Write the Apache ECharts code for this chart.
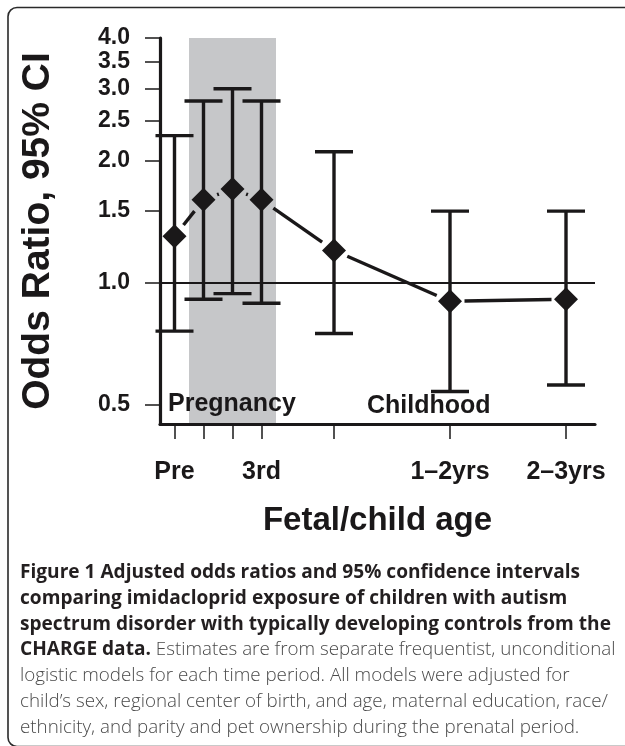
<!DOCTYPE html>
<html>
<head>
<meta charset="utf-8">
<script src="https://cdn.jsdelivr.net/npm/echarts@6/dist/echarts.min.js"></script>
<style>
  html, body { margin: 0; padding: 0; background: #fff; overflow: hidden; }
  #chart { width: 625px; height: 746px; }
</style>
</head>
<body>
<div id="chart"></div>
<script>
// time periods, placed on a month scale (0 = birth)
const periods = ['Pre', '1st', '2nd', '3rd', '0–1yr', '1–2yrs', '2–3yrs'];
const periodMonths = [-10.5, -7.5, -4.5, -1.5, 6, 18, 30];
const labelledPeriods = ['Pre', '3rd', '1–2yrs', '2–3yrs'];

// adjusted odds ratios and 95% CI
const oddsRatio = [1.30, 1.60, 1.70, 1.60, 1.20, 0.90, 0.91];
const ciLower = [0.76, 0.91, 0.94, 0.89, 0.75, 0.54, 0.56];
const ciUpper = [2.30, 2.80, 3.00, 2.80, 2.10, 1.50, 1.50];

// y tick labels, reference line, pregnancy band
const yTicks = [0.5, 1.0, 1.5, 2.0, 2.5, 3.0, 3.5, 4.0];
const refLine = 1.0;
const pregnancyMonths = [-9, 0];

// caption text
const captionBold = [
  'Figure 1 Adjusted odds ratios and 95% confidence intervals',
  'comparing imidacloprid exposure of children with autism',
  'spectrum disorder with typically developing controls from the',
  'CHARGE data.'
];
const captionLight = [
  ' Estimates are from separate frequentist, unconditional',
  'logistic models for each time period. All models were adjusted for',
  'child’s sex, regional center of birth, and age, maternal education, race/',
  'ethnicity, and parity and pet ownership during the prenatal period.'
];

const ink = '#1a1819';
const plotFont = '"Liberation Sans", Arial, sans-serif';
const capFont = '"Open Sans", "Noto Sans", sans-serif';

// fit caption font sizes to the line widths seen in the figure
function fitSize(text, weight, target) {
  const ctx = document.createElement('canvas').getContext('2d');
  ctx.font = weight + ' 100px ' + capFont;
  return 100 * target / ctx.measureText(text).width;
}
const boldSize = fitSize(captionBold[2], 'bold', 591);
const lightSize = fitSize(captionLight[2], '300', 588);

const chart = echarts.init(document.getElementById('chart'), null, { renderer: 'canvas' });

const monthToName = {};
periodMonths.forEach((m, i) => { monthToName[m] = periods[i]; });
const labelMonths = labelledPeriods.map(p => periodMonths[periods.indexOf(p)]);

// caption graphic elements
const capTop = 575;
const capStep = 25.8;
const captionEls = [];
for (let i = 0; i < 3; i++) {
  captionEls.push({
    type: 'text', left: 20, top: capTop + capStep * i - boldSize * 0.62,
    style: { text: captionBold[i], font: 'bold ' + boldSize.toFixed(2) + 'px ' + capFont, fill: '#231f20' }
  });
}
captionEls.push({
  type: 'text', left: 20, top: capTop + capStep * 3 - boldSize * 0.62,
  style: {
    text: '{b|' + captionBold[3] + '}{l|' + captionLight[0] + '}',
    rich: {
      b: { font: 'bold ' + boldSize.toFixed(2) + 'px ' + capFont, fill: '#231f20' },
      l: { font: '300 ' + lightSize.toFixed(2) + 'px ' + capFont, fill: '#4a4a4a' }
    }
  }
});
for (let i = 1; i < 4; i++) {
  captionEls.push({
    type: 'text', left: 20, top: capTop + capStep * (i + 3) - lightSize * 0.62,
    style: { text: captionLight[i], font: '300 ' + lightSize.toFixed(2) + 'px ' + capFont, fill: '#4a4a4a' }
  });
}

const option = {
  animation: false,
  backgroundColor: '#fff',
  grid: { left: 160, top: 38, width: 435, height: 386 },
  xAxis: {
    type: 'value', min: -12, max: 33, z: 5,
    splitLine: { show: false },
    axisLine: { show: true, onZero: false, lineStyle: { color: ink, width: 3.2 } },
    axisTick: { show: true, customValues: periodMonths, length: 15, lineStyle: { color: ink, width: 1.5 } },
    axisLabel: {
      customValues: labelMonths, margin: 36,
      formatter: v => monthToName[v] || '',
      color: ink, fontFamily: plotFont, fontWeight: 'bold', fontSize: 25
    },
    name: 'Fetal/child age', nameLocation: 'middle', nameGap: 80,
    nameTextStyle: { color: ink, fontFamily: plotFont, fontWeight: 'bold', fontSize: 33 }
  },
  yAxis: {
    type: 'log', min: 0.449, max: 4, z: 5,
    splitLine: { show: false },
    axisLine: { show: true, onZero: false, lineStyle: { color: ink, width: 3.2 } },
    axisTick: { show: true, customValues: yTicks, length: 15, lineStyle: { color: ink, width: 1.5 } },
    axisLabel: {
      customValues: yTicks, margin: 30,
      formatter: v => Number(v).toFixed(1),
      color: ink, fontFamily: plotFont, fontWeight: 'bold', fontSize: 23
    },
    name: 'Odds Ratio, 95% CI', nameLocation: 'middle', nameGap: 102,
    nameTextStyle: { color: ink, fontFamily: plotFont, fontWeight: 'bold', fontSize: 39 }
  },
  graphic: [
    {
      type: 'rect', silent: true, z: 10,
      shape: { x: 8, y: 7.5, width: 700, height: 739, r: 9 },
      style: { fill: 'none', stroke: '#2a2a2a', lineWidth: 1.6 }
    },
    {
      type: 'text', left: 168, top: 392, z: 10,
      style: { text: 'Pregnancy', font: 'bold 25px ' + plotFont, fill: ink }
    },
    {
      type: 'text', left: 367, top: 394, z: 10,
      style: { text: 'Childhood', font: 'bold 25px ' + plotFont, fill: ink }
    }
  ].concat(captionEls),
  series: [
    {
      // pregnancy band
      type: 'line', data: [], z: 0, silent: true,
      markArea: {
        silent: true,
        itemStyle: { color: '#c6c7c9', opacity: 1 },
        data: [[{ xAxis: pregnancyMonths[0] }, { xAxis: pregnancyMonths[1] }]]
      }
    },
    {
      // OR = 1 reference line
      type: 'line', data: [], z: 1, silent: true,
      markLine: {
        silent: true, symbol: 'none', label: { show: false },
        lineStyle: { color: ink, width: 2, type: 'solid', opacity: 1 },
        data: [{ yAxis: refLine }]
      }
    },
    {
      // error bars
      type: 'custom', z: 2, silent: true,
      data: periodMonths.map((m, i) => [m, ciLower[i], ciUpper[i]]),
      encode: { x: 0, y: [1, 2] },
      renderItem: (params, api) => {
        const lo = api.coord([api.value(0), api.value(1)]);
        const hi = api.coord([api.value(0), api.value(2)]);
        const half = 19;
        const style = { stroke: ink, lineWidth: 3.4 };
        return {
          type: 'group',
          children: [
            { type: 'line', shape: { x1: lo[0], y1: lo[1], x2: hi[0], y2: hi[1] }, style: style },
            { type: 'line', shape: { x1: lo[0] - half, y1: lo[1], x2: lo[0] + half, y2: lo[1] }, style: style },
            { type: 'line', shape: { x1: hi[0] - half, y1: hi[1], x2: hi[0] + half, y2: hi[1] }, style: style }
          ]
        };
      }
    },
    {
      // connecting line with gaps around the markers
      type: 'custom', z: 3, silent: true,
      data: periodMonths.map((m, i) => [m, oddsRatio[i]]),
      encode: { x: 0, y: 1 },
      renderItem: (params, api) => {
        const i = params.dataIndex;
        if (i === 0) return null;
        const p0 = api.coord([periodMonths[i - 1], oddsRatio[i - 1]]);
        const p1 = api.coord([api.value(0), api.value(1)]);
        const dx = p1[0] - p0[0], dy = p1[1] - p0[1];
        const len = Math.sqrt(dx * dx + dy * dy);
        const gap = 14.5;
        if (len <= 2 * gap + 0.5) {
          const cx = (p0[0] + p1[0]) / 2, cy = (p0[1] + p1[1]) / 2;
          return { type: 'circle', shape: { cx: cx, cy: cy, r: 1.6 }, style: { fill: ink } };
        }
        const ux = dx / len, uy = dy / len;
        return {
          type: 'line',
          shape: { x1: p0[0] + ux * gap, y1: p0[1] + uy * gap, x2: p1[0] - ux * gap, y2: p1[1] - uy * gap },
          style: { stroke: ink, lineWidth: 3.4 }
        };
      }
    },
    {
      // odds ratio markers
      type: 'scatter', z: 4, silent: true,
      symbol: 'diamond', symbolSize: [24, 24],
      itemStyle: { color: ink, opacity: 1 },
      data: periodMonths.map((m, i) => [m, oddsRatio[i]])
    }
  ]
};

chart.setOption(option);
</script>
</body>
</html>
